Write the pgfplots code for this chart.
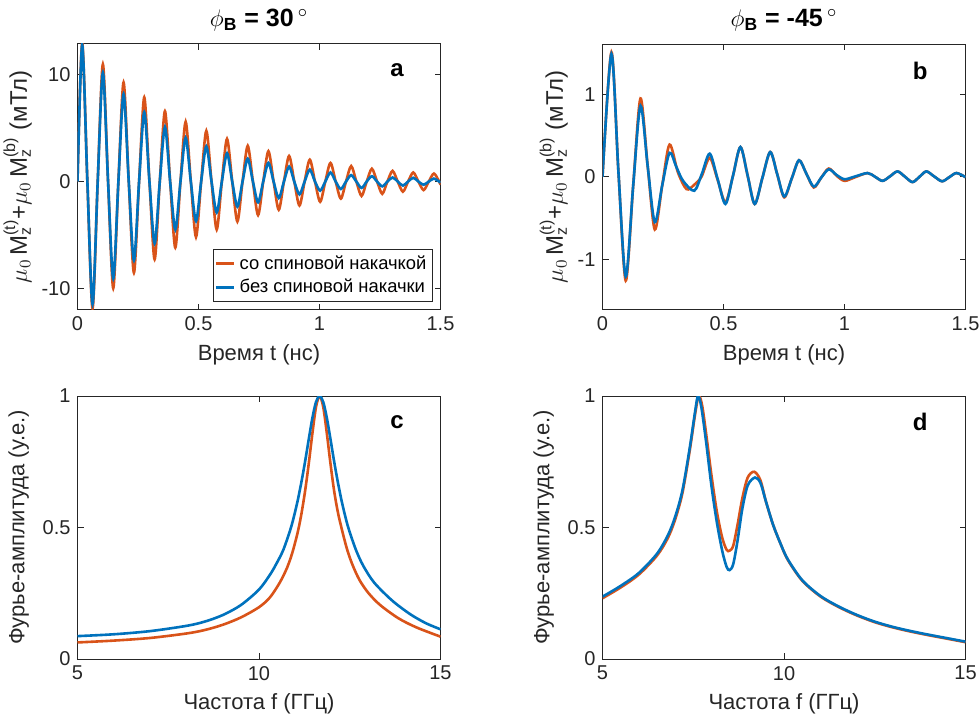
\documentclass[border=0pt]{standalone}
\usepackage{amsmath}
\usepackage{fontspec}
\setmainfont{Liberation Sans}
\usepackage{pgfplots}
\pgfplotsset{compat=1.18}
\definecolor{mblue}{RGB}{0,114,189}
\definecolor{morange}{RGB}{217,83,25}
\definecolor{maxis}{RGB}{38,38,38}

\pgfplotsset{
  panel/.style={
    scale only axis, width=181.5pt,
    axis line style={maxis, line width=0.5pt},
    tick style={maxis, line width=0.5pt},
    major tick length=3pt,
    tick align=inside,
    ticklabel style={font=\fontsize{10}{12}\selectfont, text=maxis},
    label style={font=\fontsize{11}{13}\selectfont, text=maxis},
    title style={font=\fontsize{12.5}{14}\selectfont, text=black, yshift=-3pt},
    /pgf/number format/assume math mode=true,
    every axis plot/.append style={line width=1.3pt, no markers},
  },
  mzaxis/.style={ylabel style={font=\fontsize{12}{14}\selectfont, yshift=-2pt}},
}
\tikzset{letter/.style={font=\fontsize{12}{14}\selectfont\bfseries}}
\newcommand{\mzlabel}{$\mu_0$\,M$_{\text{z}}^{\text{(t)}}$+$\mu_0$\,M$_{\text{z}}^{\text{(b)}}$ (мТл)}

\begin{document}
\begin{tikzpicture}
\useasboundingbox (0,0) rectangle (489.5pt,-360.5pt);

% ---- a: phi_B = 30, time domain
\begin{axis}[panel, mzaxis, at={(38.75pt,-154.75pt)}, anchor=south west, height=132.75pt,
  xmin=0, xmax=1.5, ymin=-12, ymax=12.9,
  xtick={0,0.5,1,1.5}, ytick={-10,0,10},
  xlabel={Время t (нс)}, ylabel={\mzlabel},
  title={$\phi_{\textbf{B}}$ \textbf{= 30}\,$^{\circ}$},
  legend style={at={(0.979,0.028)}, anchor=south east, draw=maxis, line width=0.4pt,
    font=\fontsize{9.2}{11}\selectfont, inner sep=1pt, row sep=-0.5pt},
  legend cell align=left,
  legend image post style={line width=1.3pt},
  legend image code/.code={\draw[#1] (0pt,0pt) -- (9pt,0pt);},
]
\addplot[morange, smooth] coordinates {
(0,0) (0.0194,13.0) (0.0408,0) (0.0622,-11.9) (0.0835,0)
(0.1049,11.0) (0.1263,0) (0.1477,-10.0) (0.1690,0)
(0.1904,9.3) (0.2118,0) (0.2332,-8.55) (0.2545,0)
(0.2759,7.9) (0.2973,0) (0.3187,-7.3) (0.3400,0)
(0.3614,6.6) (0.3828,0) (0.4042,-6.2) (0.4255,0)
(0.4469,5.6) (0.4683,0) (0.4897,-5.2) (0.5110,0)
(0.5324,4.75) (0.5538,0) (0.5752,-4.5) (0.5965,0)
(0.6179,4.0) (0.6393,0) (0.6607,-3.75) (0.6820,0)
(0.7034,3.35) (0.7248,0) (0.7462,-3.15) (0.7675,0)
(0.7889,2.85) (0.8103,0) (0.8317,-2.65) (0.8530,0)
(0.8744,2.4) (0.8958,0) (0.9172,-2.25) (0.9385,0)
(0.9599,2.05) (0.9813,0) (1.0027,-1.9) (1.0240,0)
(1.0454,1.75) (1.0668,0) (1.0882,-1.6) (1.1095,0)
(1.1309,1.45) (1.1523,0) (1.1737,-1.35) (1.1950,0)
(1.2164,1.2) (1.2378,0) (1.2592,-1.15) (1.2805,0)
(1.3019,1.0) (1.3233,0) (1.3447,-0.95) (1.3660,0)
(1.3874,0.85) (1.4088,0) (1.4302,-0.8) (1.4515,0)
(1.4729,0.75) (1.4943,0) (1.5,-0.3)
};
\addlegendentry{со спиновой накачкой}
\addplot[mblue, smooth] coordinates {
(0,0) (0.0194,12.8) (0.0408,0) (0.0622,-11.5) (0.0835,0)
(0.1049,10.2) (0.1263,0) (0.1477,-9.1) (0.1690,0)
(0.1904,8.2) (0.2118,0) (0.2332,-7.4) (0.2545,0)
(0.2759,6.5) (0.2973,0) (0.3187,-5.8) (0.3400,0)
(0.3614,5.1) (0.3828,0) (0.4042,-4.5) (0.4255,0)
(0.4469,4.1) (0.4683,0) (0.4897,-3.7) (0.5110,0)
(0.5324,3.3) (0.5538,0) (0.5752,-2.9) (0.5965,0)
(0.6179,2.65) (0.6393,0) (0.6607,-2.35) (0.6820,0)
(0.7034,2.15) (0.7248,0) (0.7462,-1.95) (0.7675,0)
(0.7889,1.75) (0.8103,0) (0.8317,-1.55) (0.8530,0)
(0.8744,1.4) (0.8958,0) (0.9172,-1.2) (0.9385,0)
(0.9599,1.12) (0.9813,0) (1.0027,-0.85) (1.0240,0)
(1.0454,0.85) (1.0668,0) (1.0882,-0.7) (1.1095,0)
(1.1309,0.6) (1.1523,0) (1.1737,-0.6) (1.1950,0)
(1.2164,0.5) (1.2378,0) (1.2592,-0.45) (1.2805,0)
(1.3019,0.38) (1.3233,0) (1.3447,-0.38) (1.3660,0)
(1.3874,0.35) (1.4088,0) (1.4302,-0.3) (1.4515,0)
(1.4729,0.28) (1.4943,0) (1.5,-0.1)
};
\addlegendentry{без спиновой накачки}
\node[letter] at (rel axis cs:0.88,0.9) {a};
\end{axis}

% ---- b: phi_B = -45, time domain
\begin{axis}[panel, mzaxis, at={(301.25pt,-154.75pt)}, anchor=south west, height=132.75pt,
  xmin=0, xmax=1.5, ymin=-1.61, ymax=1.61,
  xtick={0,0.5,1,1.5}, ytick={-1,0,1},
  xlabel={Время t (нс)}, ylabel={\mzlabel},
  title={$\phi_{\textbf{B}}$ \textbf{= -45}\,$^{\circ}$},
]
\addplot[morange, smooth] coordinates {
(0,0) (0.037,1.51) (0.066,0.05) (0.096,-1.26) (0.127,-0.1) (0.157,0.95)
(0.187,0.12) (0.216,-0.64) (0.247,-0.1) (0.277,0.39) (0.312,0.05)
(0.347,-0.15) (0.378,-0.10) (0.409,0.0) (0.443,0.23) (0.475,-0.03)
(0.508,-0.31) (0.539,0.01) (0.570,0.36) (0.600,0.01) (0.629,-0.33)
(0.661,-0.01) (0.693,0.30) (0.722,0.03) (0.751,-0.25) (0.782,-0.02)
(0.812,0.20) (0.842,0.04) (0.873,-0.13) (0.904,-0.01) (0.935,0.10)
(0.968,0.01) (1.0,-0.05) (1.04,-0.01) (1.095,0.045) (1.126,0.0)
(1.157,-0.05) (1.188,0.005) (1.219,0.065) (1.25,0) (1.281,-0.065)
(1.31,0) (1.338,0.065) (1.37,0.005) (1.403,-0.055) (1.433,-0.005)
(1.463,0.045) (1.5,-0.005)
};
\addplot[mblue, smooth] coordinates {
(0,0) (0.037,1.49) (0.066,0.05) (0.096,-1.21) (0.127,-0.1) (0.157,0.86)
(0.187,0.12) (0.216,-0.55) (0.247,-0.1) (0.277,0.29) (0.305,0.12)
(0.333,-0.05) (0.379,-0.17) (0.41,0.03) (0.443,0.28) (0.475,-0.02)
(0.508,-0.33) (0.539,0.01) (0.570,0.36) (0.600,0.01) (0.629,-0.33)
(0.661,-0.01) (0.693,0.30) (0.722,0.03) (0.751,-0.24) (0.782,-0.02)
(0.812,0.20) (0.842,0.04) (0.873,-0.12) (0.904,-0.01) (0.935,0.09)
(0.968,0.02) (1.0,-0.03) (1.04,0.0) (1.095,0.045) (1.126,0.0)
(1.157,-0.05) (1.188,0.005) (1.219,0.065) (1.25,0) (1.281,-0.065)
(1.31,0) (1.338,0.065) (1.37,0.005) (1.403,-0.055) (1.433,-0.005)
(1.463,0.045) (1.5,-0.005)
};
\node[letter] at (rel axis cs:0.875,0.9) {b};
\end{axis}

% ---- c: spectrum, phi_B = 30
\begin{axis}[panel, at={(38.75pt,-329.5pt)}, anchor=south west, height=131.5pt,
  xmin=5, xmax=15, ymin=0, ymax=1,
  xtick={5,10,15}, ytick={0,0.5,1},
  xlabel={Частота f (ГГц)}, ylabel={Фурье-амплитуда (у.е.)},
]
\addplot[morange, smooth] coordinates {
(5.0,0.063) (6.0,0.070) (7.0,0.080) (8.0,0.097) (8.5,0.110) (9.0,0.130)
(9.5,0.158) (10.0,0.197) (10.3,0.234) (10.57,0.29) (10.77,0.346) (10.92,0.405)
(11.07,0.484) (11.17,0.553) (11.27,0.639) (11.37,0.742) (11.47,0.857)
(11.57,0.958) (11.67,1.0) (11.77,0.958) (11.87,0.857) (11.97,0.742)
(12.07,0.639) (12.17,0.56) (12.27,0.50) (12.42,0.42) (12.57,0.36)
(12.77,0.30) (13.02,0.25) (13.34,0.205) (13.84,0.155) (14.34,0.12) (15.0,0.085)
};
\addplot[mblue, smooth] coordinates {
(5.0,0.087) (6.0,0.094) (7.0,0.106) (8.0,0.126) (8.5,0.142) (9.0,0.167)
(9.5,0.205) (10.0,0.264) (10.3,0.32) (10.47,0.36) (10.67,0.415) (10.87,0.495)
(10.97,0.546) (11.07,0.605) (11.17,0.674) (11.27,0.751) (11.37,0.835)
(11.47,0.916) (11.57,0.977) (11.67,1.0) (11.77,0.977) (11.87,0.916)
(11.97,0.835) (12.07,0.751) (12.17,0.674) (12.27,0.605) (12.37,0.546)
(12.47,0.495) (12.67,0.415) (12.87,0.355) (13.17,0.291) (13.67,0.222)
(14.17,0.170) (14.6,0.136) (15.0,0.113)
};
\node[letter] at (rel axis cs:0.88,0.9) {c};
\end{axis}

% ---- d: spectrum, phi_B = -45
\begin{axis}[panel, at={(301.25pt,-329.5pt)}, anchor=south west, height=131.5pt,
  xmin=5, xmax=15, ymin=0, ymax=1,
  xtick={5,10,15}, ytick={0,0.5,1},
  xlabel={Частота f (ГГц)}, ylabel={Фурье-амплитуда (у.е.)},
]
\addplot[morange, smooth] coordinates {
(5.0,0.231) (5.5,0.272) (6.0,0.321) (6.5,0.393) (6.8,0.46) (7.0,0.53)
(7.2,0.63) (7.4,0.79) (7.55,0.93) (7.65,1.0) (7.75,0.96) (7.88,0.83)
(8.0,0.70) (8.15,0.56) (8.3,0.46) (8.42,0.415) (8.5,0.412) (8.6,0.43)
(8.72,0.51) (8.85,0.61) (9.0,0.69) (9.18,0.712) (9.35,0.68) (9.5,0.60)
(9.7,0.51) (9.9,0.44) (10.1,0.378) (10.5,0.298) (11.0,0.238) (11.5,0.198)
(12.0,0.166) (12.5,0.140) (13.0,0.120) (13.5,0.104) (14.0,0.090)
(14.5,0.077) (15.0,0.064)
};
\addplot[mblue, smooth] coordinates {
(5.0,0.237) (5.5,0.278) (6.0,0.327) (6.5,0.400) (6.8,0.47) (7.0,0.54)
(7.2,0.64) (7.4,0.80) (7.55,0.94) (7.63,1.0) (7.72,0.96) (7.85,0.83)
(8.0,0.66) (8.15,0.52) (8.3,0.41) (8.42,0.35) (8.5,0.338) (8.6,0.36)
(8.72,0.45) (8.85,0.57) (9.0,0.66) (9.2,0.69) (9.35,0.67) (9.5,0.60)
(9.7,0.51) (9.9,0.44) (10.1,0.38) (10.5,0.30) (11.0,0.24) (11.5,0.20)
(12.0,0.168) (12.5,0.142) (13.0,0.122) (13.5,0.106) (14.0,0.092)
(14.5,0.079) (15.0,0.066)
};
\node[letter] at (rel axis cs:0.875,0.9) {d};
\end{axis}
\end{tikzpicture}
\end{document}
